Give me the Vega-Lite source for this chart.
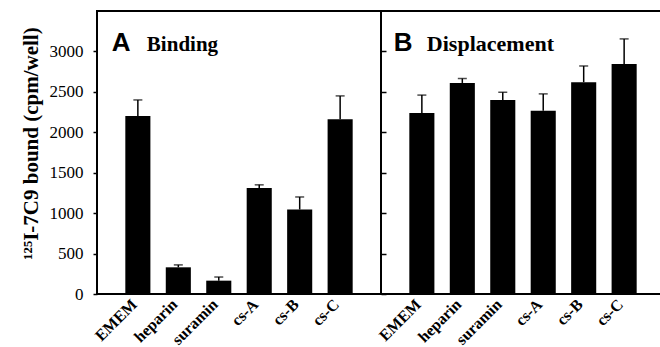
{
  "$schema": "https://vega.github.io/schema/vega-lite/v6.json",
  "padding": {"left": 18, "top": 10, "right": 0, "bottom": 0},
  "background": "white",
  "spacing": 0,
  "bounds": "flush",
  "config": {
    "view": {"stroke": "black", "strokeWidth": 2},
    "axis": {"domain": false, "grid": false, "tickColor": "black", "labelColor": "black", "titleColor": "black", "labelFont": "Liberation Serif", "titleFont": "Liberation Serif"},
    "font": "Liberation Serif"
  },
  "datasets": {
    "bars": [
      {"panel": "Binding", "agent": "EMEM", "mean": 2200, "upper": 2400},
      {"panel": "Binding", "agent": "heparin", "mean": 330, "upper": 360},
      {"panel": "Binding", "agent": "suramin", "mean": 165, "upper": 210},
      {"panel": "Binding", "agent": "cs-A", "mean": 1310, "upper": 1350},
      {"panel": "Binding", "agent": "cs-B", "mean": 1045, "upper": 1200},
      {"panel": "Binding", "agent": "cs-C", "mean": 2160, "upper": 2450},
      {"panel": "Displacement", "agent": "EMEM", "mean": 2240, "upper": 2460},
      {"panel": "Displacement", "agent": "heparin", "mean": 2610, "upper": 2665},
      {"panel": "Displacement", "agent": "suramin", "mean": 2400, "upper": 2495},
      {"panel": "Displacement", "agent": "cs-A", "mean": 2265, "upper": 2475},
      {"panel": "Displacement", "agent": "cs-B", "mean": 2620, "upper": 2820},
      {"panel": "Displacement", "agent": "cs-C", "mean": 2845, "upper": 3155}
    ]
  },
  "hconcat": [
    {
      "width": 284,
      "height": 283,
      "data": {"name": "bars"},
      "transform": [{"filter": "datum.panel === 'Binding'"}],
      "encoding": {
        "x": {"field": "agent", "type": "nominal", "sort": ["EMEM", "heparin", "suramin", "cs-A", "cs-B", "cs-C"],
          "scale": {"paddingInner": 0.38, "paddingOuter": 0.7},
          "axis": {"title": null, "labelAngle": -45, "labelAlign": "right", "labelBaseline": "alphabetic", "labelFontSize": 16, "labelFontWeight": "bold", "ticks": false, "labelPadding": 11}}
      },
      "layer": [
        {"mark": {"type": "rule", "color": "black", "strokeWidth": 1.5},
          "encoding": {"y": {"field": "mean", "type": "quantitative", "scale": {"domain": [0, 3300]}}, "y2": {"field": "upper"}}},
        {"mark": {"type": "tick", "color": "black", "orient": "horizontal", "size": 9, "thickness": 1.5},
          "encoding": {"y": {"field": "upper", "type": "quantitative"}}},
        {"mark": {"type": "bar", "color": "black"},
          "encoding": {"y": {"field": "mean", "type": "quantitative", "scale": {"domain": [0, 3300]},
            "axis": {"values": [0, 500, 1000, 1500, 2000, 2500, 3000], "format": "d", "tickSize": 4, "tickWidth": 1.5, "labelPadding": 10, "labelFontSize": 17,
              "title": "¹²⁵I-7C9 bound (cpm/well)", "titleFontSize": 21, "titleFontWeight": "bold", "titlePadding": 8, "titleY": 132, "titleAlign": "center"}}}},
        {"data": {"values": [{"t": "A"}]},
          "mark": {"type": "text", "font": "Liberation Sans", "fontWeight": "bold", "fontSize": 26, "align": "left", "baseline": "alphabetic", "dx": -26, "color": "black"},
          "encoding": {"x": {"datum": "EMEM"}, "y": {"datum": 3000}, "text": {"field": "t"}}},
        {"data": {"values": [{"t": "Binding"}]},
          "mark": {"type": "text", "font": "Liberation Serif", "fontWeight": "bold", "fontSize": 21, "align": "left", "baseline": "alphabetic", "dx": 9, "color": "black"},
          "encoding": {"x": {"datum": "EMEM"}, "y": {"datum": 3000}, "text": {"field": "t"}}}
      ]
    },
    {
      "width": 284,
      "height": 283,
      "data": {"name": "bars"},
      "transform": [{"filter": "datum.panel === 'Displacement'"}],
      "encoding": {
        "x": {"field": "agent", "type": "nominal", "sort": ["EMEM", "heparin", "suramin", "cs-A", "cs-B", "cs-C"],
          "scale": {"paddingInner": 0.38, "paddingOuter": 0.7},
          "axis": {"title": null, "labelAngle": -45, "labelAlign": "right", "labelBaseline": "alphabetic", "labelFontSize": 16, "labelFontWeight": "bold", "ticks": false, "labelPadding": 11}}
      },
      "layer": [
        {"mark": {"type": "rule", "color": "black", "strokeWidth": 1.5},
          "encoding": {"y": {"field": "mean", "type": "quantitative", "scale": {"domain": [0, 3300]}}, "y2": {"field": "upper"}}},
        {"mark": {"type": "tick", "color": "black", "orient": "horizontal", "size": 9, "thickness": 1.5},
          "encoding": {"y": {"field": "upper", "type": "quantitative"}}},
        {"mark": {"type": "bar", "color": "black"},
          "encoding": {"y": {"field": "mean", "type": "quantitative", "scale": {"domain": [0, 3300]},
            "axis": {"values": [0, 500, 1000, 1500, 2000, 2500, 3000], "tickSize": -5, "tickWidth": 1.5, "labels": false, "title": null, "zindex": 1}}}},
        {"data": {"values": [{"t": "B"}]},
          "mark": {"type": "text", "font": "Liberation Sans", "fontWeight": "bold", "fontSize": 26, "align": "left", "baseline": "alphabetic", "dx": -28, "color": "black"},
          "encoding": {"x": {"datum": "EMEM"}, "y": {"datum": 3000}, "text": {"field": "t"}}},
        {"data": {"values": [{"t": "Displacement"}]},
          "mark": {"type": "text", "font": "Liberation Serif", "fontWeight": "bold", "fontSize": 22, "align": "left", "baseline": "alphabetic", "dx": 5, "color": "black"},
          "encoding": {"x": {"datum": "EMEM"}, "y": {"datum": 3000}, "text": {"field": "t"}}}
      ]
    }
  ]
}
